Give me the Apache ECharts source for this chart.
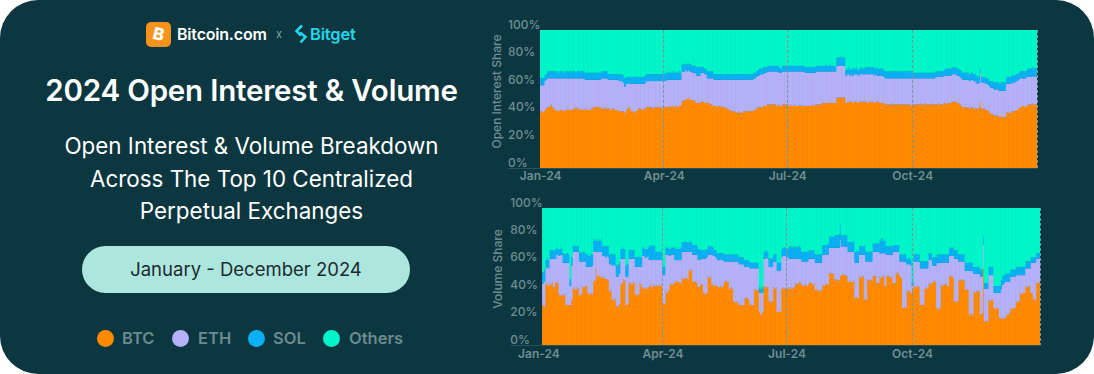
<!DOCTYPE html>
<html>
<head>
<meta charset="utf-8">
<script src="https://cdn.jsdelivr.net/npm/echarts@6/dist/echarts.min.js"></script>
<style>
  html, body { margin:0; padding:0; background:#ffffff; width:1094px; height:374px; overflow:hidden; }
  #card { position:absolute; left:0; top:0; width:1094px; height:374px; background:#0c3740; border-radius:38px; font-family:Inter, "Noto Sans", sans-serif; }
  .abs { position:absolute; white-space:nowrap; }
  #btcico { left:146px; top:22px; width:25px; height:25px; border-radius:5px; background:#f7931a; }
  #btcico span { position:absolute; left:0; top:0; width:25px; height:25px; line-height:25px; text-align:center; color:#fff; font-weight:800; font-size:17px; transform:rotate(14deg); }
  #btctext { left:177px; top:24px; line-height:20px; font-size:16px; font-weight:600; color:#ffffff; letter-spacing:-0.2px; }
  #xmark { left:276px; top:26px; line-height:16px; font-size:11px; color:#8aa5a9; }
  #bgico { left:294px; top:24px; }
  #bgtext { left:310px; top:24px; line-height:20px; font-size:16.5px; font-weight:600; color:#22d6e8; letter-spacing:-0.2px; }
  #title { left:0; width:503px; top:72px; line-height:36px; text-align:center; font-size:29.5px; font-weight:600; color:#ffffff; letter-spacing:-0.2px; }
  #sub { left:0; width:503px; top:130px; line-height:32.5px; text-align:center; font-size:22.4px; font-weight:400; color:#ffffff; white-space:normal; }
  #pill { left:82px; top:246px; width:328px; height:47px; border-radius:24px; background:#ade6de; line-height:47px; text-align:center; font-size:18.5px; color:#1b2b2e; }
  .dot { position:absolute; width:17px; height:17px; border-radius:50%; top:329.5px; }
  .lg { position:absolute; top:327px; line-height:22px; font-size:16.5px; font-weight:600; color:#6b8a90; }
  #chart { position:absolute; left:0; top:0; width:1094px; height:374px; }
</style>
</head>
<body>
<div id="card">
  <div id="btcico" class="abs"><span>B</span></div>
  <div id="btctext" class="abs">Bitcoin.com</div>
  <div id="xmark" class="abs">x</div>
  <svg id="bgico" class="abs" width="14" height="20" viewBox="0 0 14 20"><path d="M8 1.5 L2.5 7 L7 11.5" fill="none" stroke="#22d6e8" stroke-width="2.6" stroke-linejoin="miter"/><path d="M6 8.5 L11.5 13 L6.5 18.5" fill="none" stroke="#22d6e8" stroke-width="2.6"/></svg>
  <div id="bgtext" class="abs">Bitget</div>
  <div id="title" class="abs">2024 Open Interest &amp; Volume</div>
  <div id="sub" class="abs">Open Interest &amp; Volume Breakdown<br>Across The Top 10 Centralized<br>Perpetual Exchanges</div>
  <div id="pill" class="abs">January - December 2024</div>
  <div class="dot" style="left:96.5px;background:#ff8a00"></div><div class="lg" style="left:122px">BTC</div>
  <div class="dot" style="left:172px;background:#b4b1f8"></div><div class="lg" style="left:198px">ETH</div>
  <div class="dot" style="left:248px;background:#0bb0f3"></div><div class="lg" style="left:273px">SOL</div>
  <div class="dot" style="left:323px;background:#00f5c8"></div><div class="lg" style="left:349px">Others</div>
</div>
<div id="chart"></div>
<script>
// ---------- tick labels ----------
const tickDays = [0, 91, 182, 274];
const tickLabels = ['Jan-24', 'Apr-24', 'Jul-24', 'Oct-24'];
const seriesNames = ['BTC', 'ETH', 'SOL', 'Others'];
const volStartDay = 3;   // first day with volume data on the volume axis

// ---------- Open interest share (%), daily 2024 ----------
const oiBTC = [
41,41,40,42,43,44,44,45,46,44,43,
42,42,41,42,42,42,41,42,42,43,42,42,42,
43,43,44,43,43,42,43,42,43,
42,43,42,42,43,43,44,44,45,44,44,44,
43,43,44,43,43,43,43,42,43,43,42,
42,42,41,41,41,41,40,42,43,45,43,
41,41,40,41,42,43,43,43,42,43,43,44,44,
44,44,44,43,44,44,44,44,44,44,43,44,
44,45,44,44,45,45,44,45,45,44,45,45,
48,49,49,50,50,51,50,49,49,49,48,47,47,47,
48,48,48,47,48,47,47,46,46,45,
45,45,44,45,45,44,45,44,44,43,43,42,
42,41,41,41,40,40,41,40,40,41,41,
41,41,41,42,41,41,42,42,43,
44,44,44,44,45,45,45,46,
46,46,46,46,46,46,45,46,45,45,46,46,46,46,46,
45,46,45,45,46,45,45,45,46,45,45,45,45,
45,45,45,45,46,45,46,46,46,46,
46,47,47,47,47,47,47,48,47,47,47,47,
51,51,51,51,51,51,51,
47,48,48,48,48,47,48,48,48,47,48,48,48,48,
48,48,47,48,48,48,48,47,48,48,48,47,47,47,47,
46,46,46,46,46,47,46,46,46,46,46,46,46,46,46,46,46,46,46,45,
46,46,46,46,46,46,47,46,46,47,46,46,46,46,47,46,46,46,46,47,46,46,46,47,47,46,47,47,47,
48,48,48,48,47,47,46,45,
44,44,44,44,44,43,44,44,43,43,43,43,44,48,
43,43,43,42,42,41,40,
39,39,38,38,38,38,37,37,37,37,37,
40,40,40,40,41,41,41,42,42,
43,44,44,45,45,44,45,
46,46,46,47,46,46,46
];
const oiETH = [
19,19,20,21,21,21,21,20,19,21,22,
23,23,24,23,23,23,24,23,23,22,23,23,23,
22,22,21,22,22,23,22,23,22,
22,21,22,22,21,21,20,20,19,20,20,20,
22,22,21,22,22,21,21,22,21,21,22,
22,22,22,22,22,21,19,19,18,17,18,
20,20,21,20,19,18,18,18,19,18,19,19,19,
19,19,19,20,19,19,19,19,19,19,20,19,
19,19,20,20,19,19,20,19,19,20,19,19,
22,21,21,21,20,20,20,21,20,20,21,20,20,20,
21,21,21,21,20,18,18,19,19,20,
19,19,20,19,19,20,19,20,20,21,21,22,
22,23,23,23,24,24,23,24,24,23,23,
23,23,23,22,23,23,23,23,23,
23,23,24,24,23,24,24,24,
24,24,24,24,24,24,25,24,24,24,24,24,24,24,24,
25,24,25,25,24,25,25,25,24,25,25,25,24,
24,24,24,24,23,24,23,24,24,24,
24,23,23,23,23,23,23,22,23,23,23,23,
23,23,23,24,23,23,23,
20,20,20,19,20,20,20,20,20,20,20,20,20,20,
20,20,21,20,20,20,20,20,20,19,19,20,20,20,19,
19,19,19,19,19,18,19,19,19,19,19,19,19,19,19,19,19,19,19,20,
19,19,19,19,19,19,18,19,19,18,19,19,19,19,18,19,19,20,20,19,20,20,20,20,20,21,20,20,20,
20,20,20,20,20,20,20,20,
20,20,20,20,20,20,20,20,20,20,19,18,18,21,
19,19,19,19,19,19,19,
19,19,19,19,19,19,19,19,19,19,19,
21,21,21,21,21,21,21,21,21,
21,21,21,20,20,21,21,
20,20,20,20,20,21,20
];
const oiSOL = [
5,5,5,4,4,5,5,5,5,5,5,
5,5,4,5,5,5,4,5,5,5,5,5,5,
5,5,4,5,5,5,5,5,5,
5,5,5,5,5,5,5,5,5,5,5,5,
5,5,5,5,5,4,4,4,4,4,4,
4,4,5,5,5,5,6,5,5,4,5,
5,5,5,5,5,5,5,5,5,5,5,5,5,
5,5,5,5,5,5,5,5,5,5,5,5,
6,5,5,6,5,6,5,6,5,5,6,5,
5,5,5,5,5,5,5,5,5,5,5,6,6,6,
4,4,4,4,4,5,5,5,5,5,
4,4,4,4,4,4,4,4,4,4,4,4,
4,4,4,4,4,4,4,4,4,4,4,
4,4,4,4,4,4,4,4,4,
4,5,4,4,5,4,4,4,
4,4,4,4,4,4,4,4,4,3,4,4,4,4,4,
4,4,4,4,4,4,4,4,4,4,4,4,4,
4,4,4,4,4,4,4,4,4,4,
4,4,4,4,5,4,4,5,4,4,4,4,
6,6,6,6,6,6,6,
4,4,5,4,4,5,4,4,5,4,4,5,4,4,
5,5,5,5,5,5,5,5,5,5,5,5,5,5,5,
5,5,5,5,5,5,5,5,5,5,5,5,5,5,5,5,5,5,5,5,
4,4,4,4,4,4,4,4,4,4,4,4,4,4,4,4,4,4,4,4,4,4,4,4,5,5,5,5,5,
5,5,5,5,5,5,5,5,
5,5,5,5,5,5,5,5,5,5,5,5,5,3,
4,4,4,4,4,4,4,
5,5,5,5,5,5,5,6,6,6,6,
5,5,5,5,5,5,5,5,5,
5,5,5,5,5,5,5,
6,6,6,6,6,6,6
];

// ---------- Volume share (%), daily ----------
const volBTC = [
29,28,44,46,43,45,44,46,42,45,46,45,37,36,37,36,37,30,29,29,29,33,
41,42,40,42,41,36,37,43,42,43,43,38,37,38,37,
46,47,56,50,51,50,49,50,49,48,48,47,39,40,33,33,34,28,28,30,
44,45,48,47,29,30,45,46,44,45,46,37,36,37,45,44,
42,41,42,41,42,43,44,42,44,43,44,43,44,43,44,31,30,39,38,40,
44,45,44,45,46,47,46,46,45,49,48,49,49,48,55,54,55,46,47,46,45,42,43,
45,44,38,37,38,50,49,50,44,44,43,44,43,42,43,42,43,46,47,46,46,41,42,41,
32,31,32,31,29,30,29,29,34,35,34,33,29,30,29,40,41,40,40,24,22,24,
43,42,43,42,32,31,32,42,41,42,24,25,24,41,42,41,42,41,42,41,42,41,42,
45,44,45,46,45,44,43,44,44,43,45,46,45,44,45,40,41,40,39,40,44,43,44,45,44,
52,53,52,52,48,47,48,47,50,51,52,51,51,50,46,47,46,46,47,34,35,34,50,49,50,50,33,
33,48,47,48,47,50,51,50,45,45,50,49,50,50,43,50,51,50,49,50,45,45,52,53,52,50,49,
27,28,27,39,40,39,38,40,43,42,43,43,42,29,30,29,41,42,41,45,44,45,46,47,46,27,26,27,
44,43,44,45,44,43,50,51,50,49,32,31,32,47,48,47,48,47,40,41,40,22,23,22,
39,38,39,40,39,22,23,56,17,18,17,33,32,33,33,27,26,27,27,20,19,20,19,20,22,22,23,
27,26,27,27,32,31,32,38,37,38,38,43,42,43,43,38,38,33,33,46,45,46
];
const volETH = [
16,18,12,11,13,18,19,17,21,18,20,21,28,30,29,24,23,30,31,31,14,25,
27,26,28,26,27,25,24,18,19,18,14,19,20,19,21,
22,21,12,18,17,18,19,15,16,16,17,17,20,19,25,26,24,22,22,22,
19,18,15,16,21,20,18,17,19,18,17,20,21,20,12,13,
23,24,22,23,23,19,18,20,18,19,18,19,18,19,18,20,21,27,28,26,
21,21,22,21,16,15,16,16,17,19,20,19,19,20,13,14,13,20,19,20,21,20,19,
18,19,25,26,26,16,17,16,22,21,22,20,19,20,19,20,19,15,14,15,15,20,19,20,
29,30,29,30,30,29,30,30,23,22,23,24,27,26,27,16,15,16,16,14,16,14,
20,21,21,21,25,26,25,19,20,19,30,29,30,23,23,24,23,23,22,22,21,22,21,
18,19,18,17,18,17,18,17,17,18,18,17,18,19,18,20,19,20,21,20,22,23,22,21,22,
19,18,19,19,23,24,23,24,27,21,20,21,21,22,22,21,22,22,21,26,25,26,16,17,16,16,33,
28,13,14,13,14,18,17,18,23,23,17,18,17,17,24,16,15,16,17,16,23,23,16,15,16,11,12,
34,33,34,20,19,20,20,3,18,19,18,18,19,27,26,27,15,14,15,17,18,17,12,11,12,33,34,33,
16,17,16,15,16,17,15,14,15,16,31,32,31,14,13,14,13,14,14,13,14,32,31,32,
13,14,13,12,13,28,27,17,24,23,24,18,19,18,18,11,12,11,11,18,22,24,26,26,24,24,23,
23,24,23,23,19,20,19,13,14,13,13,13,14,13,13,22,22,27,27,17,18,17
];
const volSOL = [
8,9,6,7,6,6,7,6,6,7,5,4,5,5,4,7,6,7,7,6,5,6,
4,5,4,4,5,7,6,7,7,6,9,9,8,9,8,
9,8,9,8,9,8,9,7,7,8,7,8,7,8,8,7,8,8,9,8,
7,7,8,7,8,9,6,6,7,6,6,7,7,8,7,7,
6,6,6,6,6,11,10,11,11,10,6,6,6,6,6,6,6,5,5,5,
5,5,5,5,9,8,9,8,9,7,7,8,7,7,7,8,7,7,7,7,7,8,8,
6,6,6,6,6,6,6,6,6,6,4,5,5,5,5,5,5,5,5,5,5,5,5,5,
5,5,5,5,5,5,5,5,5,5,5,5,4,4,4,4,4,4,4,4,3,4,
5,5,5,5,6,6,6,5,5,5,6,6,6,6,6,6,6,6,7,9,9,8,9,
9,8,9,9,8,7,7,7,7,7,6,6,6,6,6,6,6,6,6,6,7,7,7,7,8,
8,8,8,8,9,9,9,10,11,8,8,8,8,8,7,7,8,7,8,8,9,8,6,6,6,6,6,
7,7,7,7,7,6,6,6,6,6,9,10,11,9,9,6,6,6,6,6,5,5,5,5,5,5,5,
5,5,5,4,4,4,4,3,5,5,5,5,5,5,5,5,5,5,5,5,5,5,6,6,6,6,6,6,
6,6,6,6,6,6,6,6,6,6,6,6,6,5,5,5,5,5,6,6,6,6,6,6,
5,5,5,5,5,5,5,6,4,4,4,6,6,6,6,5,5,5,5,5,6,6,6,6,6,6,6,
5,5,5,5,6,6,6,6,6,6,6,5,5,5,5,4,4,4,4,4,4,4
];

// ---------- build ----------
const colors = ['#ff8a00', '#b4b1f8', '#0bb0f3', '#00f5c8'];
const TXT = '#6f8e94';
const quarterLines = tickDays.slice(1);

function remainder(a, b, c) { return a.map((v, i) => Math.max(0, 100 - v - b[i] - c[i])); }
function dayCats(n) { return Array.from({ length: n }, (_, i) => 'd' + i); }

const oiOthers = remainder(oiBTC, oiETH, oiSOL);
const volOthers = remainder(volBTC, volETH, volSOL);
const oiCats = dayCats(oiBTC.length);
const volCats = dayCats(volBTC.length + volStartDay);
const lead = Array(volStartDay).fill(null);

function makeSeries(gi, sets, pad, stackName) {
  return sets.map((arr, k) => ({
    name: seriesNames[k], type: 'bar', stack: stackName,
    xAxisIndex: gi, yAxisIndex: gi,
    data: pad.concat(arr),
    barWidth: 2,
    itemStyle: { color: colors[k] },
    silent: true, animation: false
  }));
}

function xAxisCfg(gi, cats, margin) {
  return {
    type: 'category', gridIndex: gi, data: cats, boundaryGap: true, z: 10,
    axisLine: { show: true, lineStyle: { color: '#24525a', width: 1 } },
    axisTick: { show: false },
    splitLine: {
      show: true,
      interval: (idx) => quarterLines.indexOf(idx) >= 0,
      lineStyle: { color: '#7b959a', type: [3, 2], width: 1 }
    },
    axisLabel: {
      interval: (idx) => tickDays.indexOf(idx) >= 0,
      formatter: (v, idx) => tickLabels[tickDays.indexOf(idx)] || '',
      color: TXT, fontSize: 12, fontWeight: 600, fontFamily: 'Inter', margin: margin
    }
  };
}
function yAxisCfg(gi, name, margin, gap) {
  return {
    type: 'value', gridIndex: gi, min: 0, max: 100, interval: 20,
    axisLine: { show: false }, axisTick: { show: false }, splitLine: { show: false },
    axisLabel: {
      formatter: '{value}%', color: TXT, fontSize: 12, fontWeight: 500, fontFamily: 'Inter',
      align: 'left', margin: margin, verticalAlign: 'bottom'
    },
    name: name, nameLocation: 'middle', nameGap: gap, nameRotate: 90,
    nameTextStyle: { color: TXT, fontSize: 12, fontWeight: 500, fontFamily: 'Inter', padding: [0, 0, 0, 15] }
  };
}

const chart = echarts.init(document.getElementById('chart'), null, { renderer: 'svg' });
chart.setOption({
  backgroundColor: 'transparent',
  animation: false,
  grid: [
    { left: 540, top: 30, width: 497, height: 138, outerBoundsMode: 'none', containLabel: false },
    { left: 538.3, top: 208, width: 501.7, height: 137, outerBoundsMode: 'none', containLabel: false }
  ],
  xAxis: [xAxisCfg(0, oiCats, 1), xAxisCfg(1, volCats, 2)],
  yAxis: [yAxisCfg(0, 'Open Interest Share', 32, 38), yAxisCfg(1, 'Volume Share', 28, 35)],
  graphic: [
    { type: 'line', shape: { x1: 508, y1: 168.5, x2: 540, y2: 168.5 }, style: { stroke: '#24525a', lineWidth: 1 }, silent: true },
    { type: 'line', shape: { x1: 510, y1: 345.5, x2: 538, y2: 345.5 }, style: { stroke: '#24525a', lineWidth: 1 }, silent: true }
  ],
  series: [
    ...makeSeries(0, [oiBTC, oiETH, oiSOL, oiOthers], [], 'oi'),
    ...makeSeries(1, [volBTC, volETH, volSOL, volOthers], lead, 'vol')
  ]
});
</script>
</body>
</html>
